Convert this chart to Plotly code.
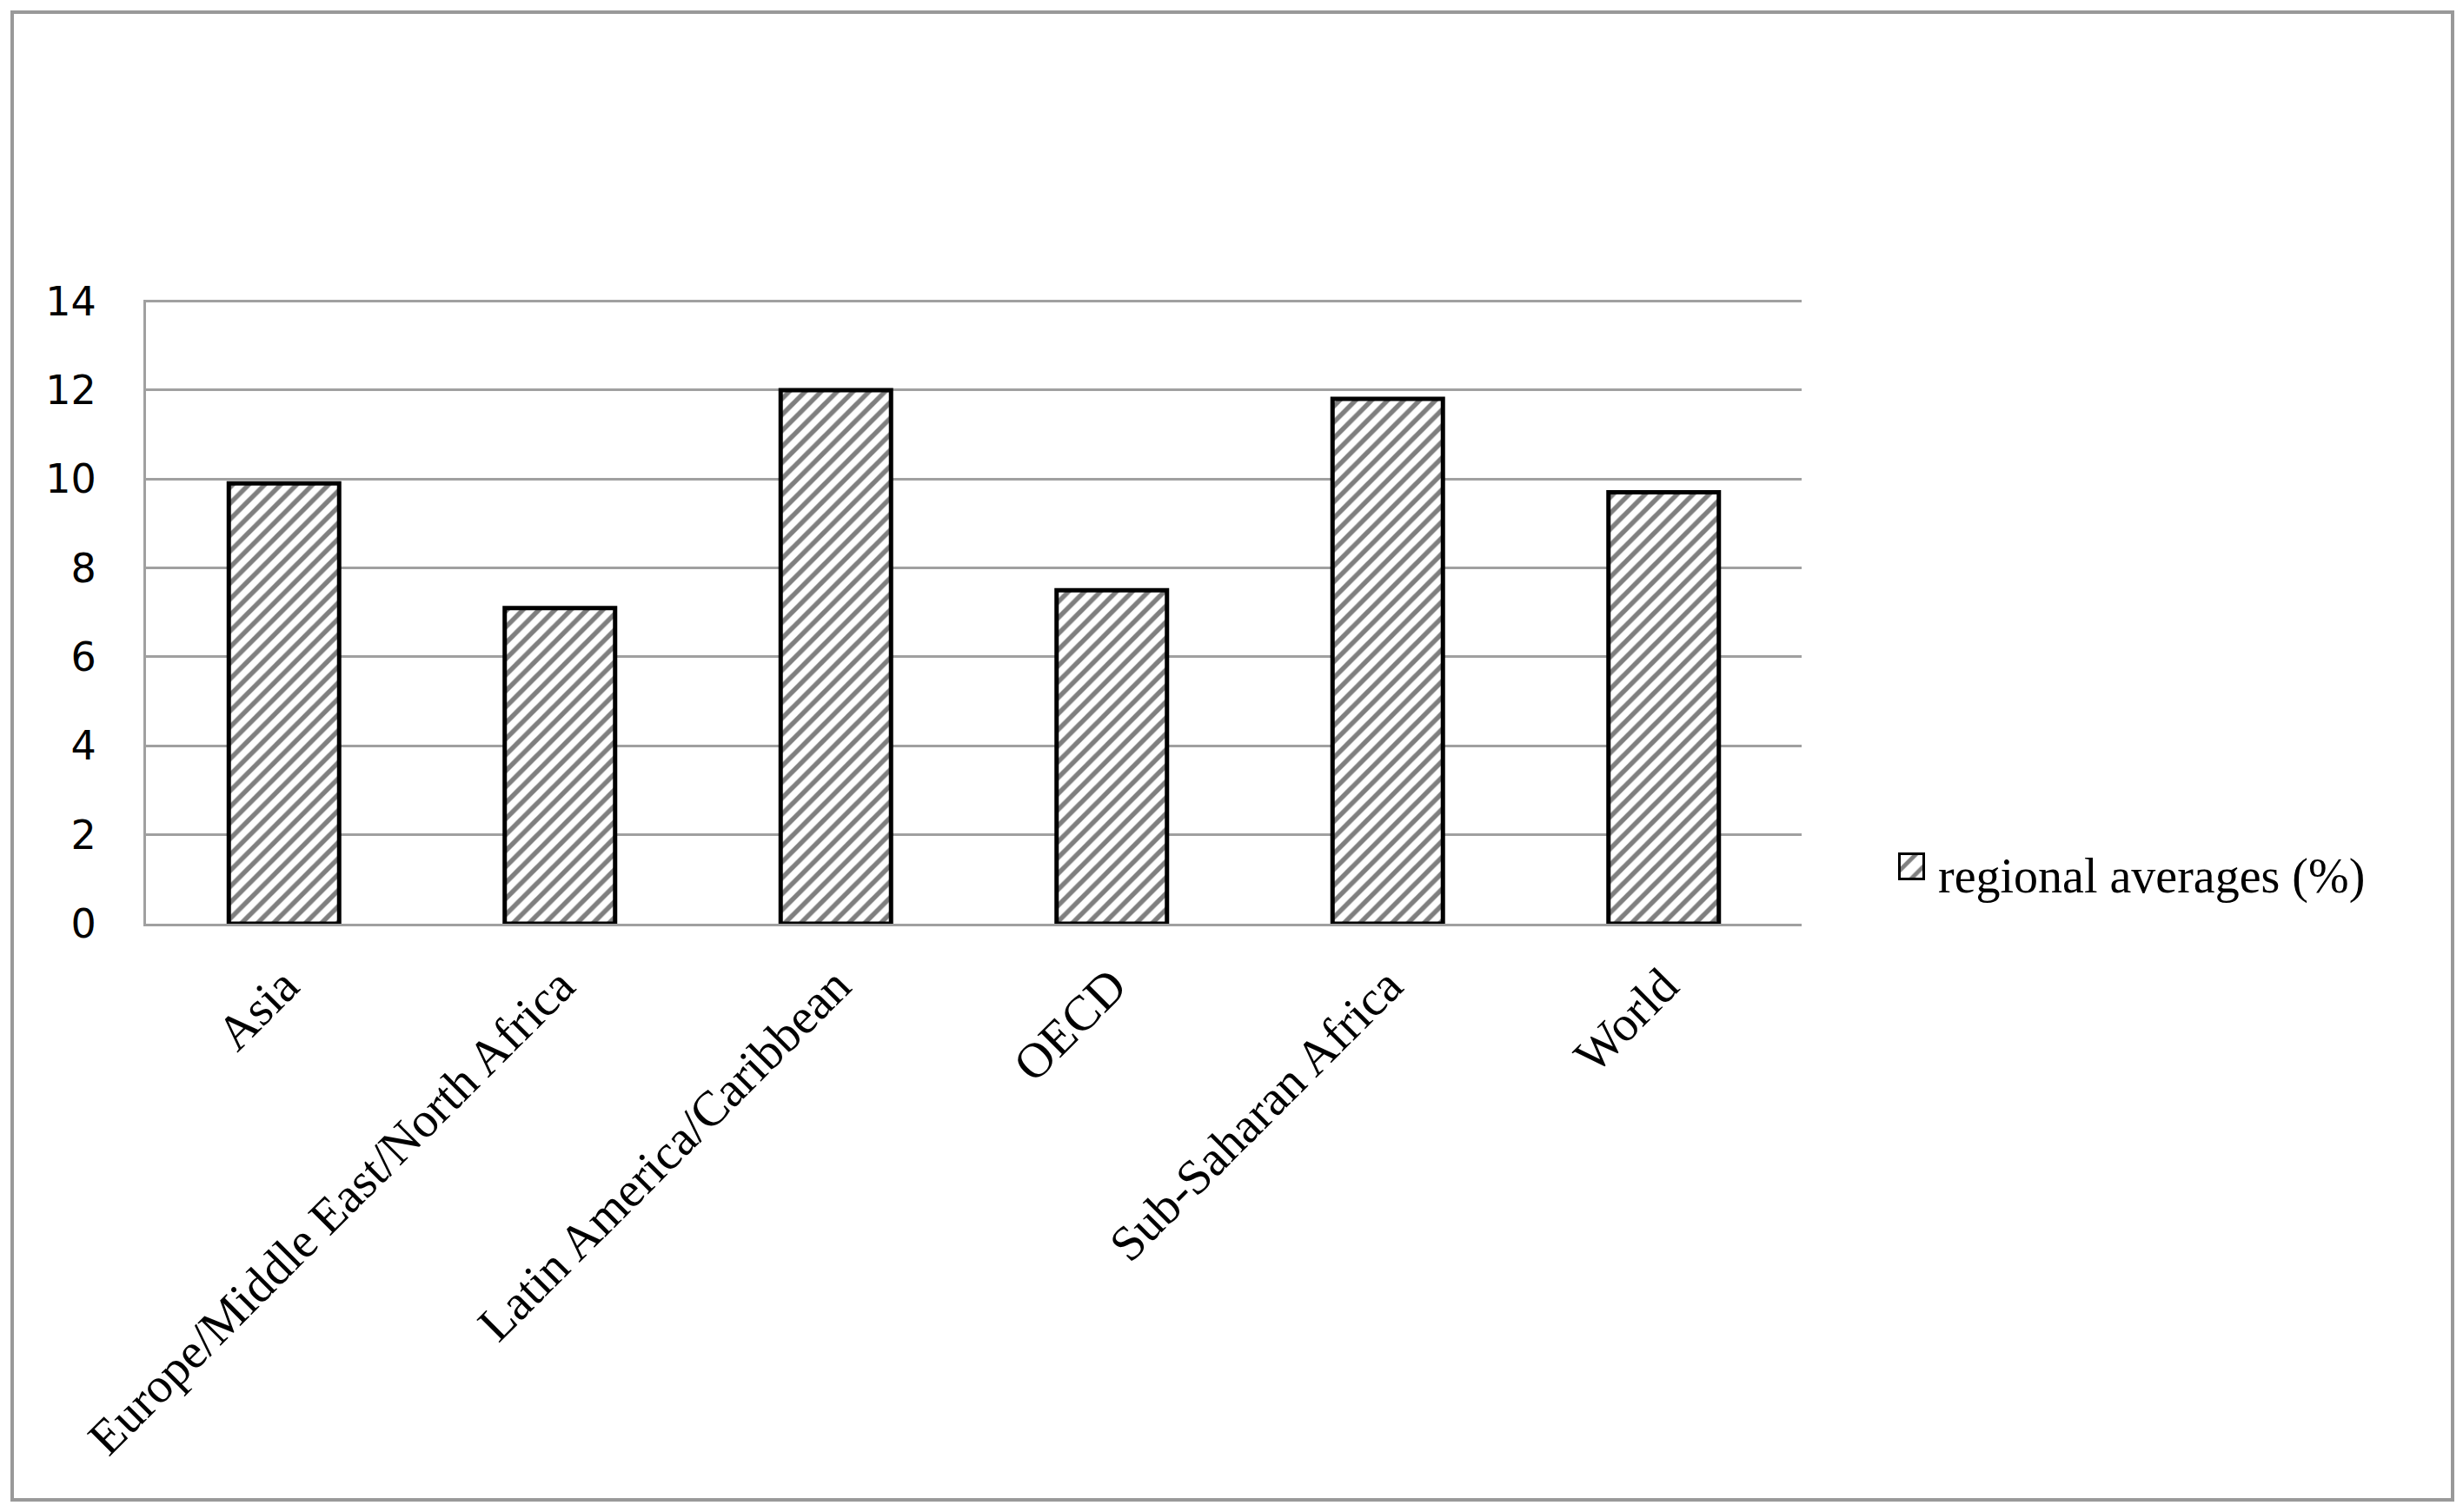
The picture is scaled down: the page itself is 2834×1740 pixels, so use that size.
import plotly.graph_objects as go

regions = ['Asia', 'Europe/Middle East/North Africa', 'Latin America/Caribbean',
           'OECD', 'Sub-Saharan Africa', 'World']
averages = [9.9, 7.1, 12.0, 7.5, 11.8, 9.7]
y_ticks = [0, 2, 4, 6, 8, 10, 12, 14]
series_name = 'regional averages (%)'

W, H = 2834, 1740
OFF = 8  # page body margin

# paper coords = whole figure (margins are zero)
def px(x):
    return (x - OFF) / W

def py(y):
    return 1 - (y - OFF) / H

hatch = dict(shape='/', fgcolor='black', bgcolor='white', size=13, solidity=0.42)

fig = go.Figure()
fig.add_trace(go.Bar(
    x=regions, y=averages, name=series_name, showlegend=False,
    marker=dict(color='white', line=dict(color='black', width=5), pattern=hatch),
))

# legend key: a small hatched box on its own little axes
fig.add_trace(go.Bar(
    x=[0], y=[1], width=[1], xaxis='x2', yaxis='y2', showlegend=False,
    hoverinfo='skip',
    marker=dict(color='white', line=dict(color='black', width=6),
                pattern=dict(shape='/', fgcolor='black', bgcolor='white',
                             size=16, solidity=0.3)),
))

grey = '#a0a0a0'
fig.update_layout(
    width=W, height=H,
    margin=dict(l=0, r=0, t=0, b=0),
    paper_bgcolor='white', plot_bgcolor='white',
    bargap=0.6,
    showlegend=False,
    xaxis=dict(domain=[px(168), px(2073)], showline=True, linecolor=grey, linewidth=3,
               showgrid=False, tickangle=-45, ticks='', ticklabelstandoff=12,
               automargin=False,
               tickfont=dict(family='Liberation Serif', size=57, color='black')),
    yaxis=dict(domain=[py(1063), py(345)], range=[0, 14.03], tickvals=y_ticks,
               showline=True, linecolor=grey, linewidth=3, gridcolor=grey,
               gridwidth=3, zeroline=False, ticks='', ticklabelstandoff=45,
               automargin=False,
               tickfont=dict(family='DejaVu Sans', size=46, color='black')),
    xaxis2=dict(domain=[px(2184), px(2215)], range=[-0.5, 0.5], visible=False,
                anchor='y2', fixedrange=True),
    yaxis2=dict(domain=[py(1013), py(981)], range=[0, 1], visible=False,
                anchor='x2', fixedrange=True),
    annotations=[dict(text=series_name, xref='paper', yref='paper',
                      x=px(2228), y=py(1009), xanchor='left', yanchor='middle',
                      showarrow=False,
                      font=dict(family='Liberation Serif', size=56, color='black'))],
    shapes=[dict(type='rect', xref='paper', yref='paper',
                 x0=px(14), x1=px(2822), y0=py(1726), y1=py(14),
                 line=dict(color='#999999', width=4), layer='below')],
)

fig.write_html('out.html')
